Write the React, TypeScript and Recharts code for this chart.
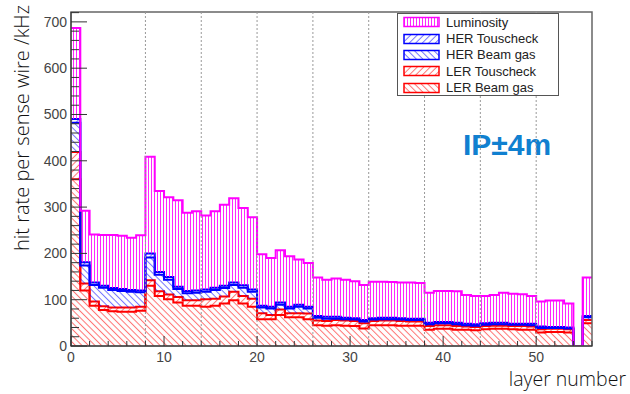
import React from 'react';
import { AreaChart, Area, XAxis, YAxis, ReferenceLine, ReferenceArea, Legend } from 'recharts';

// hit rate per sense wire (kHz) for each CDC layer, split by source
const lerBeamGas = [
  360, 120, 87, 78, 75, 74, 74, 76, 130, 108,
  101, 94, 87, 87, 85, 87, 92, 99, 92, 85,
  58, 58, 67, 62, 62, 58, 45, 44, 45, 44,
  43, 38, 45, 45, 45, 44, 44, 44, 35, 37,
  37, 35, 35, 34, 36, 37, 37, 36, 35, 35,
  29, 30, 30, 29, 0, 49,
];
const lerTouschek = [
  59, 15, 9, 8, 8, 9, 9, 9, 12, 10,
  10, 12, 12, 12, 16, 15, 15, 18, 16, 17,
  13, 9, 12, 9, 9, 12, 10, 10, 11, 11,
  11, 11, 9, 10, 10, 10, 9, 9, 8, 8,
  8, 8, 7, 7, 7, 7, 7, 7, 8, 7,
  7, 7, 7, 7, 0, 7,
];
const herBeamGas = [
  63, 39, 36, 40, 38, 36, 34, 31, 49, 36,
  32, 17, 15, 16, 16, 19, 18, 15, 18, 15,
  12, 14, 10, 10, 14, 11, 6, 5, 3, 3,
  3, 4, 3, 3, 3, 3, 3, 3, 4, 4,
  4, 4, 3, 3, 3, 3, 3, 3, 3, 3,
  3, 2, 2, 2, 0, 6,
];
const herTouschek = [
  8, 7, 5, 4, 4, 4, 4, 4, 9, 6,
  6, 5, 5, 5, 5, 5, 5, 5, 5, 5,
  4, 4, 5, 4, 4, 4, 4, 4, 4, 3,
  3, 3, 3, 3, 3, 3, 3, 3, 3, 3,
  3, 3, 3, 3, 3, 3, 3, 2, 2, 3,
  3, 2, 2, 2, 0, 3,
];
const luminosity = [
  197, 111, 104, 110, 115, 115, 113, 119, 209, 175,
  172, 187, 169, 171, 160, 165, 175, 182, 167, 156,
  111, 105, 113, 109, 98, 94, 83, 80, 83, 82,
  80, 76, 79, 78, 77, 77, 78, 77, 65, 67,
  67, 68, 62, 61, 59, 60, 65, 65, 64, 60,
  54, 57, 57, 52, 0, 83,
];

// superlayer boundaries (dashed lines)
const superlayerEdges = [8, 14, 20, 26, 32, 38, 44, 50];
const xTicks = [0, 2, 4, 6, 8, 10, 12, 14, 16, 18, 20, 22, 24, 26, 28, 30, 32, 34, 36, 38, 40, 42, 44, 46, 48, 50, 52, 54, 56];
const yTicks = [0, 20, 40, 60, 80, 100, 120, 140, 160, 180, 200, 220, 240, 260, 280, 300, 320, 340, 360, 380, 400, 420, 440, 460, 480, 500, 520, 540, 560, 580, 600, 620, 640, 660, 680, 700, 720];

const nLayers = lerBeamGas.length;

// stack order: first entry sits at the bottom
const series = [
  { key: 'lerBeamGas', name: 'LER Beam gas', color: '#ff0000', hatch: 'back', values: lerBeamGas },
  { key: 'lerTouschek', name: 'LER Touscheck', color: '#ff0000', hatch: 'fwd', values: lerTouschek },
  { key: 'herBeamGas', name: 'HER Beam gas', color: '#0000ff', hatch: 'back', values: herBeamGas },
  { key: 'herTouschek', name: 'HER Touscheck', color: '#0000ff', hatch: 'fwd', values: herTouschek },
  { key: 'luminosity', name: 'Luminosity', color: '#ff00ff', hatch: 'vert', values: luminosity },
];

// one row per layer plus a closing edge at the upper end of the last bin
const rows = Array.from({ length: nLayers + 1 }, (_, i) => {
  const bin = Math.min(i, nLayers - 1);
  const row: Record<string, number> = { layer: i };
  series.forEach((s) => {
    row[s.key] = s.values[bin];
  });
  return row;
});

const totals = lerBeamGas.map((_, i) => series.reduce((acc, s) => acc + s.values[i], 0));
const yMax = Math.max(...totals) * 1.05;

function Hatch({ id, color, kind, opacity }: { id: string; color: string; kind: string; opacity: number }) {
  const gap = kind === 'vert' ? 3 : 4.6;
  const angle = kind === 'vert' ? 0 : kind === 'fwd' ? 45 : -45;
  return (
    <pattern id={id} patternUnits="userSpaceOnUse" width={gap} height={gap} patternTransform={`rotate(${angle})`}>
      <line x1={gap / 2} y1={0} x2={gap / 2} y2={gap} stroke={color} strokeWidth={1} strokeOpacity={opacity} />
    </pattern>
  );
}

function HatchDefs({ prefix }: { prefix: string }) {
  return (
    <defs>
      {series.map((s) => (
        <Hatch key={s.key} id={`${prefix}-${s.key}`} color={s.color} kind={s.hatch} opacity={s.hatch === 'vert' ? 0.85 : 0.55} />
      ))}
    </defs>
  );
}

const tickFont = { fontFamily: '"Liberation Sans", Arial, sans-serif', fontSize: 14, fill: '#444' };

const XTick = (props: any) => {
  const { x, y, payload } = props;
  const v = payload.value;
  const major = v % 10 === 0;
  return (
    <g>
      <line x1={x} x2={x} y1={y} y2={y - (major ? 10 : 5)} stroke="#333" />
      {major && (
        <text x={x} y={y + 16} textAnchor="middle" {...tickFont}>
          {v}
        </text>
      )}
    </g>
  );
};

const YTick = (props: any) => {
  const { x, y, payload } = props;
  const v = payload.value;
  const major = v % 100 === 0;
  return (
    <g>
      <line x1={x} x2={x + (major ? 16 : 8)} y1={y} y2={y} stroke="#333" />
      {major && (
        <text x={x - 4} y={y} dy="0.35em" textAnchor="end" {...tickFont}>
          {v}
        </text>
      )}
    </g>
  );
};

const renderLegend = () => (
  <div
    style={{
      width: 162,
      height: 83,
      boxSizing: 'border-box',
      border: '1px solid #555',
      background: '#fff',
      padding: '0 0 0 5px',
      fontFamily: '"Liberation Sans", Arial, sans-serif',
      fontSize: 13,
      color: '#222',
    }}
  >
    <svg width={0} height={0} style={{ position: 'absolute' }}>
      <HatchDefs prefix="leg" />
    </svg>
    {[...series].reverse().map((s) => (
      <div key={s.key} style={{ display: 'flex', alignItems: 'center', height: 16.4 }}>
        <svg width={38} height={12}>
          <rect x={1} y={1.5} width={35} height={9} fill={`url(#leg-${s.key})`} stroke={s.color} strokeWidth={1.5} />
        </svg>
        <span style={{ marginLeft: 5 }}>{s.name}</span>
      </div>
    ))}
  </div>
);

export default function App() {
  return (
    <div style={{ position: 'absolute', left: 0, top: 0, width: 630, height: 394, background: '#fff' }}>
      <AreaChart width={630} height={394} data={rows} margin={{ top: 12, right: 38, bottom: 0, left: 0 }}>
        <HatchDefs prefix="plot" />
        <XAxis
          dataKey="layer"
          type="number"
          domain={[0, nLayers]}
          allowDataOverflow
          ticks={xTicks}
          interval={0}
          height={48}
          tickSize={0}
          tickMargin={0}
          tickLine={false}
          tick={<XTick />}
          axisLine={{ stroke: '#333' }}
        />
        <YAxis
          type="number"
          domain={[0, yMax]}
          allowDataOverflow
          ticks={yTicks}
          interval={0}
          width={71}
          tickSize={0}
          tickMargin={0}
          tickLine={false}
          tick={<YTick />}
          axisLine={{ stroke: '#333' }}
        />
        {series.map((s) => (
          <Area
            key={s.key}
            dataKey={s.key}
            name={s.name}
            stackId="rate"
            type="stepAfter"
            stroke={s.color}
            strokeWidth={2}
            fill={`url(#plot-${s.key})`}
            fillOpacity={1}
            dot={false}
            activeDot={false}
            isAnimationActive={false}
          />
        ))}
        {superlayerEdges.map((e) => (
          <ReferenceLine key={e} x={e} stroke="#999" strokeDasharray="2 2" />
        ))}
        <ReferenceArea x1={0} x2={nLayers} y1={0} y2={yMax} fill="none" stroke="#666" strokeWidth={1.5} />
        <Legend
          layout="vertical"
          align="center"
          verticalAlign="middle"
          content={renderLegend}
          wrapperStyle={{ left: 397, top: 13, width: 162 }}
        />
        <text
          x={29}
          y={5}
          transform="rotate(-90 29 5)"
          textAnchor="end"
          fontFamily='"Open Sans", sans-serif'
          fontWeight={300}
          fontSize={20}
          fill="#111"
        >
          hit rate per sense wire /kHz
        </text>
        <text x={626} y={386} textAnchor="end" fontFamily='"Open Sans", sans-serif' fontWeight={300} fontSize={19.5} fill="#111">
          layer number
        </text>
        <text x={463} y={155} fontFamily='"Liberation Sans", Arial, sans-serif' fontWeight="bold" fontSize={30} fill="#1080d0">
          IP±4m
        </text>
      </AreaChart>
    </div>
  );
}
